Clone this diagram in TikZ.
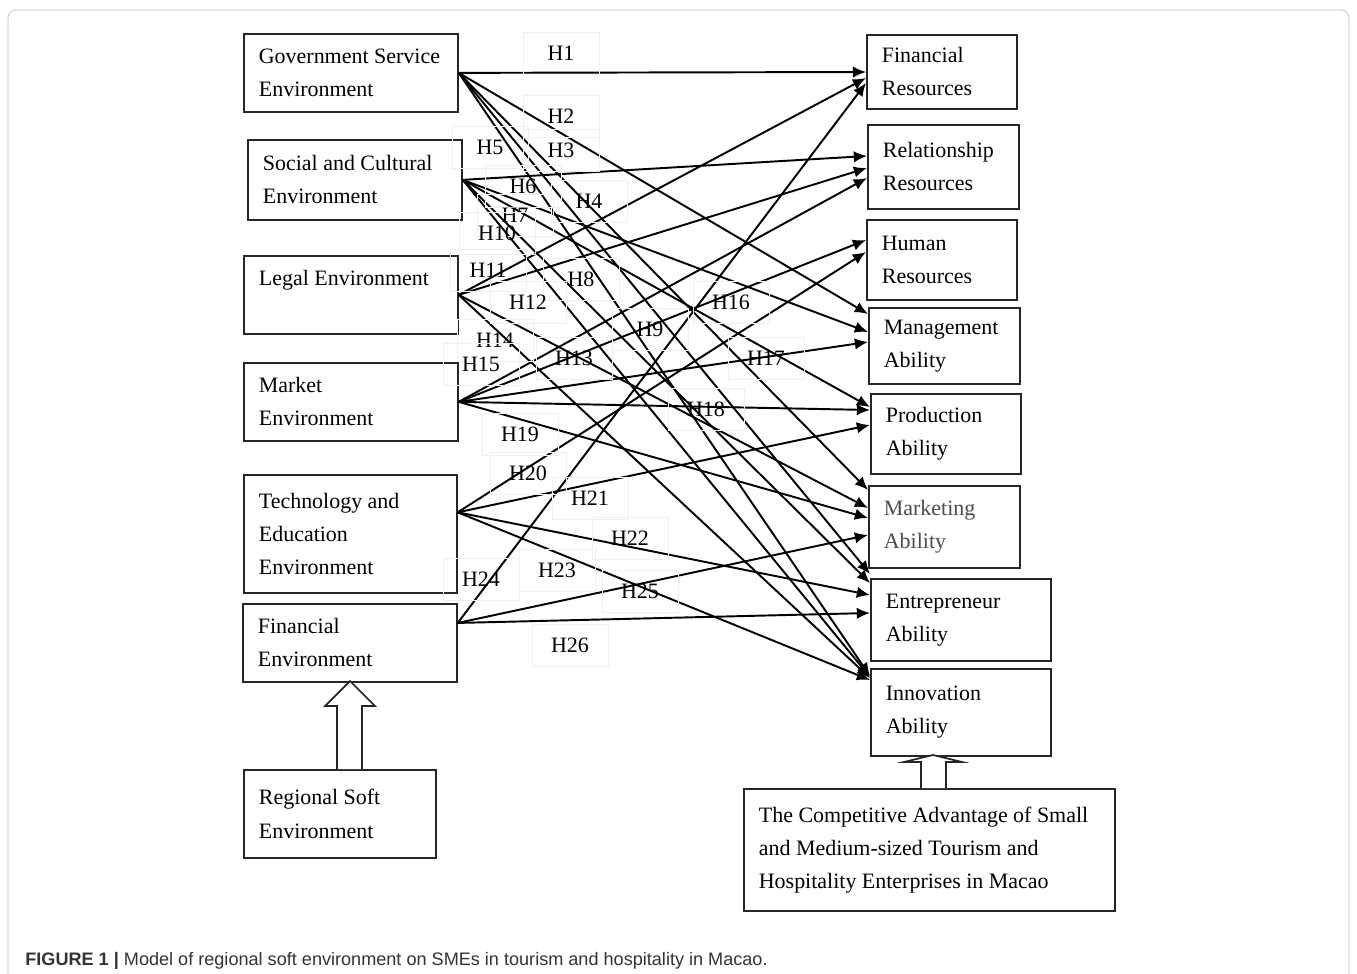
\documentclass[tikz,border=0pt]{standalone}
\usepackage{fontspec}
\setmainfont{Liberation Serif}
\newfontfamily\capfont{Liberation Sans}
\usetikzlibrary{arrows.meta,calc}

\begin{document}
\begin{tikzpicture}[x=0.02cm,y=-0.02cm,
    every node/.style={font=\fontsize{12.5}{18.8}\selectfont},
    envbox/.style={draw=black!85,line width=1pt,anchor=north west,align=flush left,
      inner xsep=0.3cm,inner ysep=0pt},
    hyp/.style={line width=1.1pt,-{Latex[length=7.5pt,width=6.5pt]}},
    hlab/.style={draw=black!6,minimum width=1.52cm,minimum height=0.84cm,inner sep=0pt},
    hollow/.style={draw=black!85,line width=1pt,fill=white}
    ]
    \useasboundingbox (0,0) rectangle (1357,974);
    \draw[black!25,rounded corners=0.16cm] (8,10) rectangle (1349,1020);

    % environments
    \node (gse) [envbox,text width=3.68cm,minimum height=1.56cm] at (243,33) {Government Service\\Environment};
    \node (sce) [envbox,text width=3.68cm,minimum height=1.60cm] at (247,139) {Social and Cultural\\Environment};
    \node (le) [envbox,text width=3.68cm,minimum height=1.56cm] at (243,255) {Legal Environment\\~};
    \node (me) [envbox,text width=3.68cm,minimum height=1.56cm] at (243,362) {Market\\Environment};
    \node (tee) [envbox,text width=3.66cm,minimum height=2.36cm] at (243,474) {Technology and\\Education\\Environment};
    \node (fe) [envbox,text width=3.68cm,minimum height=1.56cm] at (242,603) {Financial\\Environment};
    \node (rse) [envbox,text width=3.24cm,minimum height=1.76cm] at (243,769) {Regional Soft\\Environment};

    % resources and abilities
    \node (fr) [envbox,text width=2.40cm,minimum height=1.48cm] at (866,34) {Financial\\Resources};
    \node (rr) [envbox,text width=2.42cm,minimum height=1.68cm] at (867,124) {Relationship\\Resources};
    \node (hr) [envbox,text width=2.40cm,minimum height=1.60cm] at (866,219) {Human\\Resources};
    \node (ma) [envbox,text width=2.42cm,minimum height=1.52cm] at (868,307) {Management\\Ability};
    \node (pa) [envbox,text width=2.40cm,minimum height=1.60cm] at (870,393) {Production\\Ability};
    \node (mka) [envbox,text width=2.42cm,minimum height=1.64cm,text=black!70] at (868,485) {Marketing\\Ability};
    \node (ea) [envbox,text width=3.00cm,minimum height=1.64cm] at (870,578) {Entrepreneur\\Ability};
    \node (ia) [envbox,text width=3.00cm,minimum height=1.74cm] at (870,668) {Innovation\\Ability};
    \node (ca) [envbox,text width=6.82cm,minimum height=2.44cm] at (743,788)
      {The Competitive Advantage of Small\\and Medium-sized Tourism and\\Hospitality Enterprises in Macao};

    \coordinate (teo) at ($(tee.north east)!0.32!(tee.south east)$);
    \coordinate (feo) at ($(fe.north east)!0.25!(fe.south east)$);

    % the edges
    \draw[hyp] (gse.east) -- (fr.west |- 0,72);
    \draw[hyp] (gse.east) -- (ma.west |- 0,314);
    \draw[hyp] (gse.east) -- (mka.west |- 0,490);
    \draw[hyp] (gse.east) -- (ea.west |- 0,574);
    \draw[hyp] (gse.east) -- (ia.west |- 0,676);
    \draw[hyp] (sce.east) -- (rr.west |- 0,156);
    \draw[hyp] (sce.east) -- (ma.west |- 0,332);
    \draw[hyp] (sce.east) -- (pa.west |- 0,407);
    \draw[hyp] (sce.east) -- (ea.west |- 0,583);
    \draw[hyp] (sce.east) -- (ia.west |- 0,677);
    \draw[hyp] (le.east) -- (fr.west |- 0,78);
    \draw[hyp] (le.east) -- (rr.west |- 0,168);
    \draw[hyp] (le.east) -- (mka.west |- 0,508);
    \draw[hyp] (le.east) -- (ia.west |- 0,678);
    \draw[hyp] (me.east) -- (rr.west |- 0,178);
    \draw[hyp] (me.east) -- (hr.west |- 0,240);
    \draw[hyp] (me.east) -- (ma.west |- 0,342);
    \draw[hyp] (me.east) -- (pa.west |- 0,410);
    \draw[hyp] (me.east) -- (mka.west |- 0,518);
    \draw[hyp] (teo) -- (hr.west |- 0,252);
    \draw[hyp] (teo) -- (pa.west |- 0,425);
    \draw[hyp] (teo) -- (ea.west |- 0,595);
    \draw[hyp] (teo) -- (ia.west |- 0,680);
    \draw[hyp] (feo) -- (fr.west |- 0,83);
    \draw[hyp] (feo) -- (mka.west |- 0,535);
    \draw[hyp] (feo) -- (ea.west |- 0,613);

    % hypothesis labels
    \node (h1) [hlab] at (561,53) {H1};
    \node (h2) [hlab] at (561,116) {H2};
    \node (h3) [hlab] at (561,150) {H3};
    \node (h4) [hlab] at (589,201) {H4};
    \node (h5) [hlab] at (490,147) {H5};
    \node (h6) [hlab] at (523,186) {H6};
    \node (h7) [hlab] at (515,215) {H7};
    \node (h10) [hlab] at (497,233) {H10};
    \node (h11) [hlab] at (488,270) {H11};
    \node (h8) [hlab] at (581,279) {H8};
    \node (h12) [hlab] at (528,302) {H12};
    \node (h9) [hlab] at (650,329) {H9};
    \node (h14) [hlab] at (495,340) {H14};
    \node (h15) [hlab] at (481,364) {H15};
    \node (h13) [hlab] at (574,358) {H13};
    \node (h16) [hlab] at (731,302) {H16};
    \node (h17) [hlab] at (766,358) {H17};
    \node (h18) [hlab] at (706,409) {H18};
    \node (h19) [hlab] at (520,434) {H19};
    \node (h20) [hlab] at (528,473) {H20};
    \node (h21) [hlab] at (590,498) {H21};
    \node (h22) [hlab] at (630,538) {H22};
    \node (h23) [hlab] at (557,570) {H23};
    \node (h24) [hlab] at (481,579) {H24};
    \node (h25) [hlab] at (640,591) {H25};
    \node (h26) [hlab] at (570,645) {H26};

    % hollow arrows
    \draw[hollow] (337,769) -- (337,706) -- (325,706) -- (350,681) -- (375,706) -- (362,706) -- (362,769);
    \draw[hollow] (921,788) -- (921,762) -- (904,762) -- (933,755) -- (962,762) -- (946,762) -- (946,788);

    % caption
    \node (cap) [anchor=west,inner sep=0pt,font=\capfont\fontsize{10.3}{12}\selectfont,text=black!80] at (25,961)
      {\textbf{FIGURE 1 |} Model of regional soft environment on SMEs in tourism and hospitality in Macao.};
\end{tikzpicture}
\end{document}
